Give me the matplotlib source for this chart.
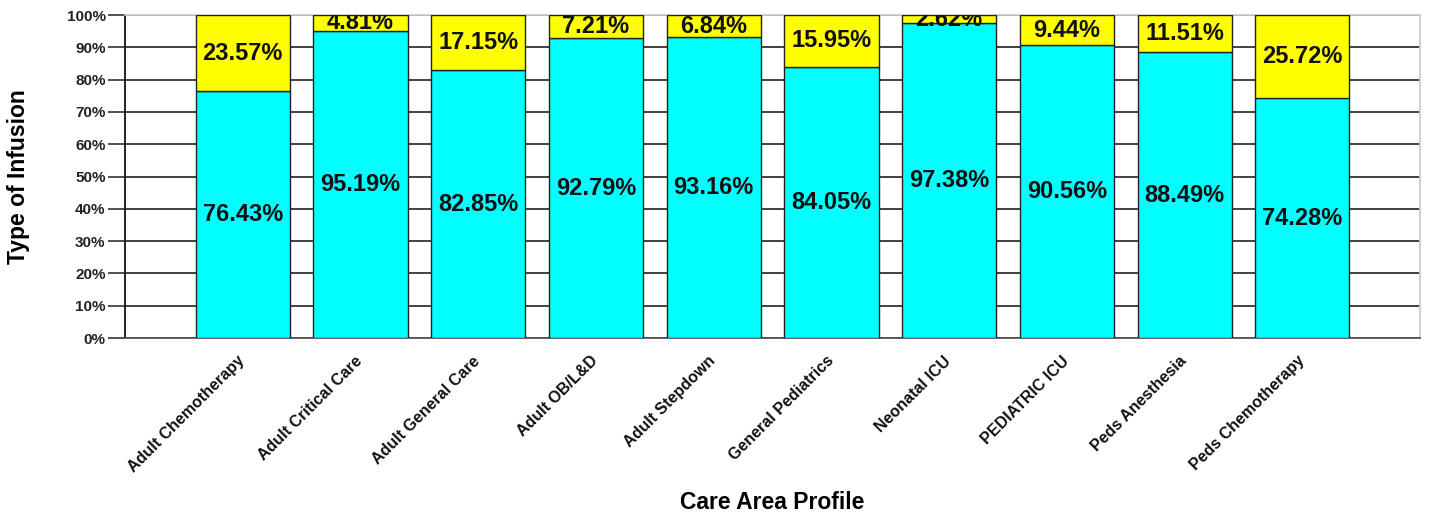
import numpy as np
import matplotlib
matplotlib.use("Agg")
import matplotlib.pyplot as plt
from matplotlib.transforms import ScaledTranslation

# Chart data
care_areas = [
    "Adult Chemotherapy", "Adult Critical Care", "Adult General Care",
    "Adult OB/L&D", "Adult Stepdown", "General Pediatrics", "Neonatal ICU",
    "PEDIATRIC ICU", "Peds Anesthesia", "Peds Chemotherapy",
]
cyan_pct = [76.43, 95.19, 82.85, 92.79, 93.16, 84.05, 97.38, 90.56, 88.49, 74.28]
yellow_pct = [23.57, 4.81, 17.15, 7.21, 6.84, 15.95, 2.62, 9.44, 11.51, 25.72]
y_ticks = list(range(0, 101, 10))

plt.rcParams["font.family"] = ["Liberation Sans", "DejaVu Sans"]

fig = plt.figure(figsize=(14.29, 5.14), dpi=100)
ax = fig.add_axes([0.0875, 0.3424, 0.9063, 0.6284])

x = np.arange(1, len(care_areas) + 1)
cyan = np.array(cyan_pct)
yellow = np.array(yellow_pct)

ax.bar(x, cyan, width=0.8, color="#00ffff", edgecolor="#222222", linewidth=1, zorder=3)
ax.bar(x, yellow, width=0.8, bottom=cyan, color="#ffff00", edgecolor="#222222", linewidth=1, zorder=3)

for xi, c, y in zip(x, cyan, yellow):
    ax.text(xi, c / 2, f"{c:.2f}%", ha="center", va="center",
            fontsize=17, fontweight="bold", color="#111111", zorder=4)
    ax.text(xi, c + y / 2, f"{y:.2f}%", ha="center", va="center",
            fontsize=17, fontweight="bold", color="#111111", zorder=4, clip_on=True)

ax.set_xlim(0, 11)
ax.set_ylim(0, 100)
ax.set_yticks(y_ticks)
ax.set_yticklabels([f"{t}%" for t in y_ticks], fontsize=11, fontweight="bold", color="#222222")
ax.set_xticks(x)
ax.set_xticklabels(care_areas, rotation=45, ha="right", va="top", rotation_mode="anchor",
                   fontsize=11.5, fontweight="bold", color="#111111")
ax.tick_params(axis="y", length=12, width=1.2, color="#333333", pad=2)
ax.tick_params(axis="x", length=0, pad=11)
# nudge rotated labels a little to the left
shift = ScaledTranslation(-4 / 72, 0, fig.dpi_scale_trans)
for lbl in ax.get_xticklabels():
    lbl.set_transform(lbl.get_transform() + shift)

ax.grid(axis="y", color="#333333", linewidth=1.3, zorder=0)
ax.set_axisbelow(True)

ax.spines["left"].set_color("#111111")
ax.spines["bottom"].set_color("#555555")
ax.spines["top"].set_color("#cccccc")
ax.spines["right"].set_color("#cccccc")
for s in ax.spines.values():
    s.set_linewidth(1.3)

ax.set_ylabel("Type of Infusion", fontsize=16.5, fontweight="bold")
ax.yaxis.set_label_coords(-0.073, 0.5)
ax.set_xlabel("Care Area Profile", fontsize=16.5, fontweight="bold")
ax.xaxis.set_label_coords(0.5, -0.475)

fig.savefig("out.png", dpi=100, facecolor="white")
